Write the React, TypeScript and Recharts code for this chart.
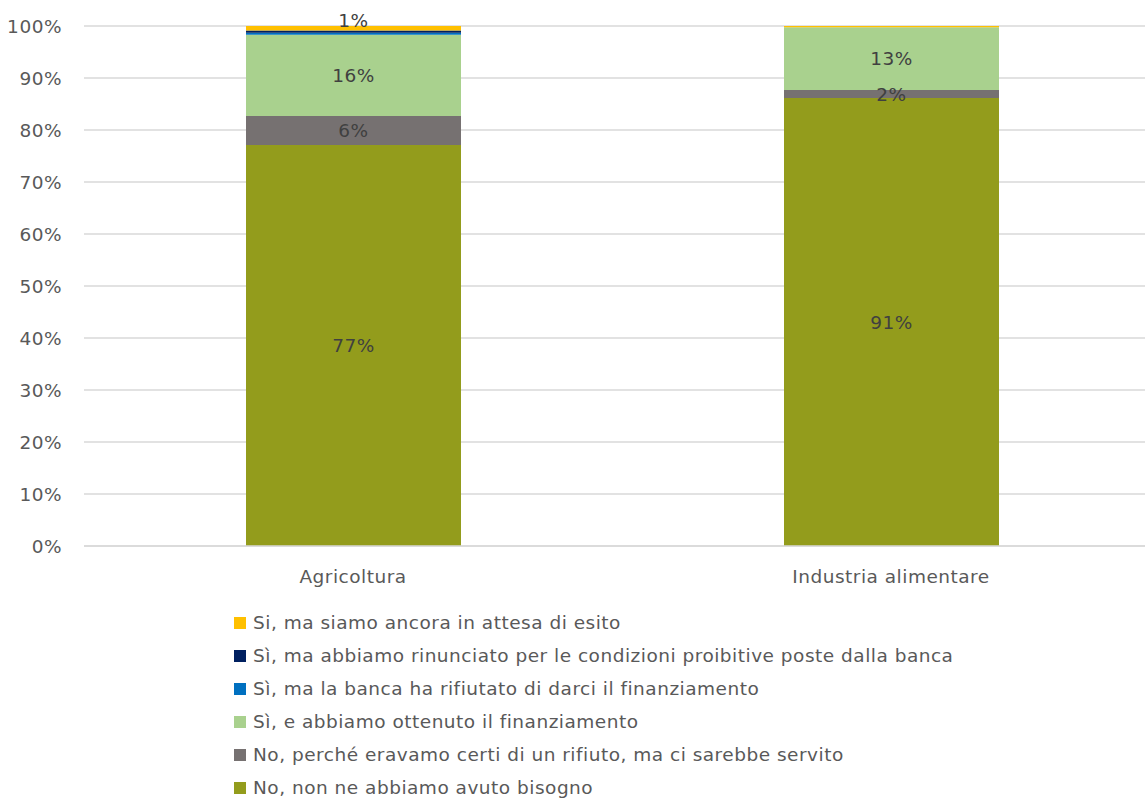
import React from 'react';
import { BarChart, Bar, XAxis, YAxis, CartesianGrid, Legend, LabelList } from 'recharts';

const categories = ['Agricoltura', 'Industria alimentare'];

const seriesNames = [
  'No, non ne abbiamo avuto bisogno',
  'No, perché eravamo certi di un rifiuto, ma ci sarebbe servito',
  'Sì, e abbiamo ottenuto il finanziamento',
  'Sì, ma la banca ha rifiutato di darci il finanziamento',
  'Sì, ma abbiamo rinunciato per le condizioni proibitive poste dalla banca',
  'Si, ma siamo ancora in attesa di esito',
];
const seriesKeys = ['nonBisogno', 'certiRifiuto', 'ottenuto', 'rifiutato', 'rinunciato', 'attesa'];
const seriesColors = ['#939C1C', '#767171', '#A9D18E', '#0070C0', '#002060', '#FFC000'];

const nonBisogno = [77.1, 91.4];
const certiRifiuto = [5.6, 1.63];
const ottenuto = [15.6, 12.84];
const rifiutato = [0.4, 0];
const rinunciato = [0.45, 0];
const attesa = [0.85, 0.23];

const yTicks = [0, 0.1, 0.2, 0.3, 0.4, 0.5, 0.6, 0.7, 0.8, 0.9, 1];

const seriesValues = [nonBisogno, certiRifiuto, ottenuto, rifiutato, rinunciato, attesa];

const data = categories.map((c, i) => {
  const row: Record<string, any> = { name: c };
  seriesKeys.forEach((k, j) => {
    row[k] = seriesValues[j][i];
  });
  return row;
});

const FONT = '"DejaVu Sans", sans-serif';
const FS = 18.5;
const LS = 0.5;

const makeLabel = (dyExtra: number) => (props: any) => {
  const { x, y, width, height, value } = props;
  const r = Math.round(Number(value));
  if (!r) return null;
  return (
    <text
      x={Number(x) + Number(width) / 2}
      y={Number(y) + Number(height) / 2 + dyExtra}
      textAnchor="middle"
      dominantBaseline="central"
      fill="#404040"
      fontFamily={FONT}
      fontSize={FS}
      letterSpacing={LS}
    >
      {`${r}%`}
    </text>
  );
};

const renderLegend = () => (
  <div style={{ fontFamily: FONT, fontSize: FS, letterSpacing: LS, color: '#595959' }}>
    {seriesNames
      .map((n, i) => ({ n, c: seriesColors[i] }))
      .reverse()
      .map((it) => (
        <div key={it.n} style={{ display: 'flex', alignItems: 'center', height: 33, whiteSpace: 'nowrap' }}>
          <span style={{ display: 'inline-block', width: 12, height: 12, background: it.c, marginRight: 7 }} />
          <span>{it.n}</span>
        </div>
      ))}
  </div>
);

export default function App() {
  return (
    <div style={{ position: 'fixed', left: 0, top: 0, width: 1145, height: 798, overflow: 'hidden', background: '#fff' }}>
      <BarChart
        width={1160}
        height={798}
        data={data}
        stackOffset="expand"
        margin={{ top: 26, right: 0, left: 0, bottom: 192 }}
      >
        <CartesianGrid vertical={false} stroke="#D9D9D9" strokeWidth={1.5} />
        <XAxis
          dataKey="name"
          height={60}
          tickSize={0}
          tickMargin={24}
          axisLine={{ stroke: '#D9D9D9', strokeWidth: 1.5 }}
          tickLine={false}
          tick={{ fill: '#595959', fontFamily: FONT, fontSize: FS, letterSpacing: LS }}
        />
        <YAxis
          width={84}
          domain={[0, 1]}
          ticks={yTicks}
          tickSize={0}
          tickMargin={22}
          axisLine={false}
          tickLine={false}
          tickFormatter={(v: number) => `${Math.round(v * 100)}%`}
          tick={{ fill: '#595959', fontFamily: FONT, fontSize: FS, letterSpacing: LS }}
        />
        <Legend
          layout="vertical"
          align="center"
          verticalAlign="middle"
          wrapperStyle={{ top: 606, left: 234, width: 800 }}
          content={renderLegend}
        />
        {seriesKeys.map((k, i) => (
          <Bar
            key={k}
            dataKey={k}
            name={seriesNames[i]}
            stackId="a"
            fill={seriesColors[i]}
            barSize={215}
            isAnimationActive={false}
          >
            <LabelList dataKey={k} content={makeLabel(k === 'attesa' ? -8 : 0)} />
          </Bar>
        ))}
      </BarChart>
    </div>
  );
}
